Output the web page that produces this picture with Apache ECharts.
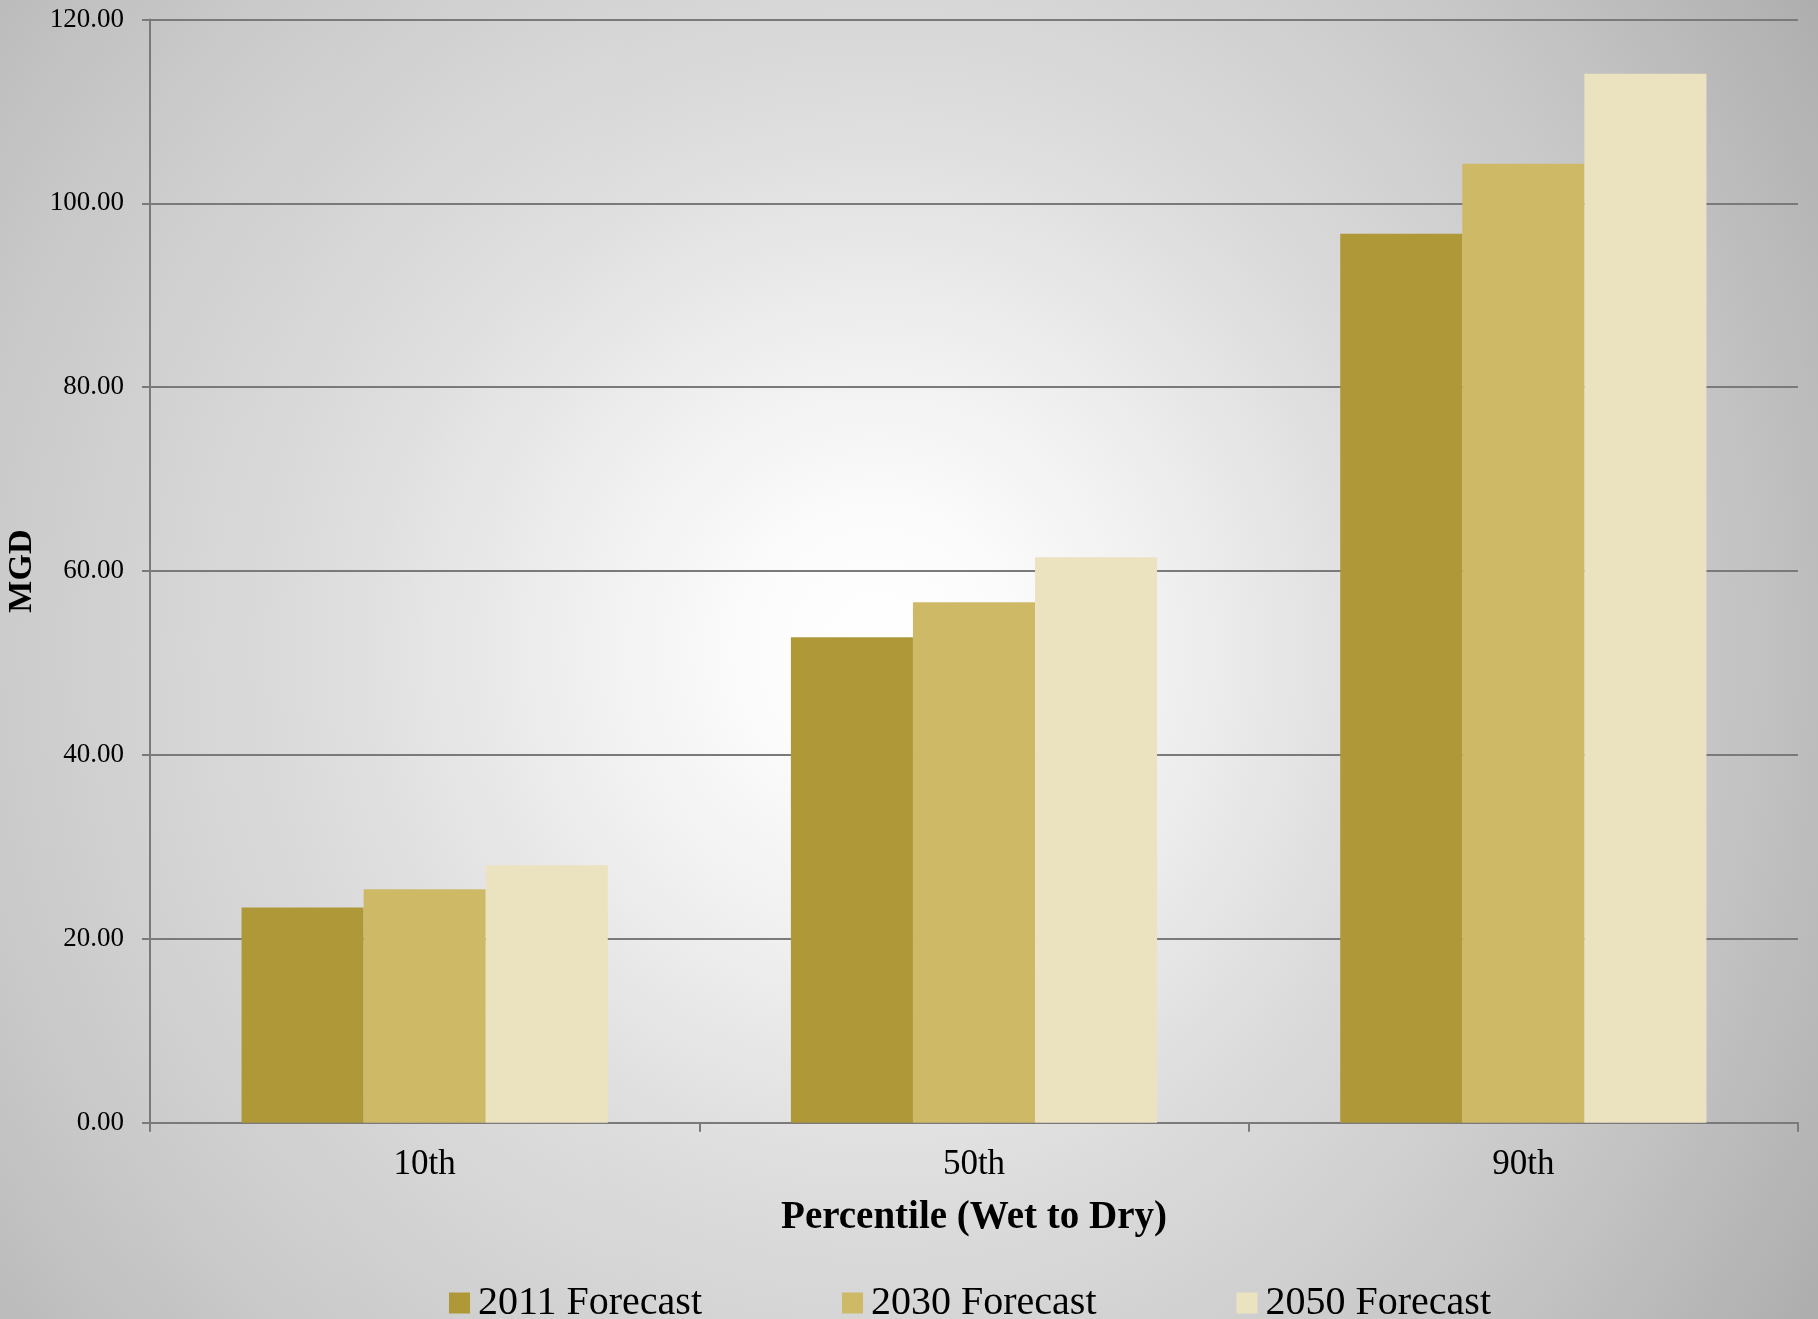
<!DOCTYPE html>
<html>
<head>
<meta charset="utf-8">
<script src="https://cdn.jsdelivr.net/npm/echarts@6/dist/echarts.min.js"></script>
<style>
html,body{margin:0;padding:0;background:#c8c8c8;}
#chart{width:1818px;height:1319px;}
</style>
</head>
<body>
<div id="chart"></div>
<script>
const categories = ['10th', '50th', '90th'];
const seriesNames = ['2011 Forecast', '2030 Forecast', '2050 Forecast'];
const forecast2011 = [23.4, 52.8, 96.7];
const forecast2030 = [25.4, 56.6, 104.3];
const forecast2050 = [28.0, 61.5, 114.1];
const yTicks = { min: 0, max: 120, interval: 20 };
const xAxisTitle = 'Percentile (Wet to Dry)';
const yAxisTitle = 'MGD';

const colors = ['#AE9838', '#CEB967', '#EBE2C0'];
const font = '"Liberation Serif", "DejaVu Serif", serif';
const gray = '#7a7a7a';

const chart = echarts.init(document.getElementById('chart'), null, { renderer: 'canvas' });
const values = [forecast2011, forecast2030, forecast2050];

chart.setOption({
  animation: false,
  backgroundColor: {
    type: 'radial', x: 880, y: 650, r: 1200, global: true,
    colorStops: [
      { offset: 0, color: '#ffffff' },
      { offset: 0.1, color: '#fcfcfc' },
      { offset: 0.25, color: '#f0f0f0' },
      { offset: 0.45, color: '#dddddd' },
      { offset: 0.55, color: '#d6d6d6' },
      { offset: 0.73, color: '#c9c9c9' },
      { offset: 0.92, color: '#b8b8b8' },
      { offset: 1, color: '#b0b0b0' }
    ]
  },
  graphic: [{
    type: 'rect',
    z: -100,
    silent: true,
    shape: { x: 0, y: 0, width: 1818, height: 1319 },
    style: {
      fill: {
        type: 'linear', x: 0, y: 0, x2: 1, y2: 0,
        colorStops: [
          { offset: 0, color: 'rgba(255,255,255,0.05)' },
          { offset: 0.45, color: 'rgba(255,255,255,0)' },
          { offset: 1, color: 'rgba(0,0,0,0.04)' }
        ]
      }
    }
  }],
  textStyle: { fontFamily: font, color: '#000' },
  grid: { left: 150, right: 20, top: 19.5, bottom: 196.3, containLabel: false, outerBoundsMode: 'none' },
  legend: {
    data: seriesNames,
    left: 449,
    top: 1283,
    itemWidth: 21,
    itemHeight: 21,
    itemGap: 140,
    icon: 'rect',
    padding: 0,
    textStyle: { fontFamily: font, fontSize: 40, color: '#000', padding: [0, 0, 0, 3] }
  },
  xAxis: {
    type: 'category',
    data: categories,
    boundaryGap: true,
    name: xAxisTitle,
    nameLocation: 'middle',
    nameGap: 76,
    nameTextStyle: { fontFamily: font, fontSize: 39, fontWeight: 'bold', color: '#000' },
    axisLine: { show: true, lineStyle: { color: gray, width: 2 } },
    axisTick: { show: true, alignWithLabel: false, length: 9, lineStyle: { color: gray, width: 2 } },
    axisLabel: { fontFamily: font, fontSize: 35, color: '#000', margin: 25 },
    splitLine: { show: false }
  },
  yAxis: {
    type: 'value',
    min: yTicks.min,
    max: yTicks.max,
    interval: yTicks.interval,
    name: yAxisTitle,
    nameLocation: 'middle',
    nameGap: 107,
    nameRotate: 90,
    nameTextStyle: { fontFamily: font, fontSize: 34, fontWeight: 'bold', color: '#000' },
    axisLine: { show: true, lineStyle: { color: gray, width: 2 } },
    axisTick: { show: true, length: 8, lineStyle: { color: gray, width: 2 } },
    axisLabel: {
      fontFamily: font, fontSize: 27, color: '#000', margin: 26,
      formatter: v => v.toFixed(2)
    },
    splitLine: { show: true, lineStyle: { color: gray, width: 2 } }
  },
  series: seriesNames.map((n, i) => ({
    name: n,
    type: 'bar',
    data: values[i],
    barGap: '0%',
    barCategoryGap: '33.33%',
    itemStyle: { color: colors[i] },
    emphasis: { disabled: true }
  }))
});
</script>
</body>
</html>
